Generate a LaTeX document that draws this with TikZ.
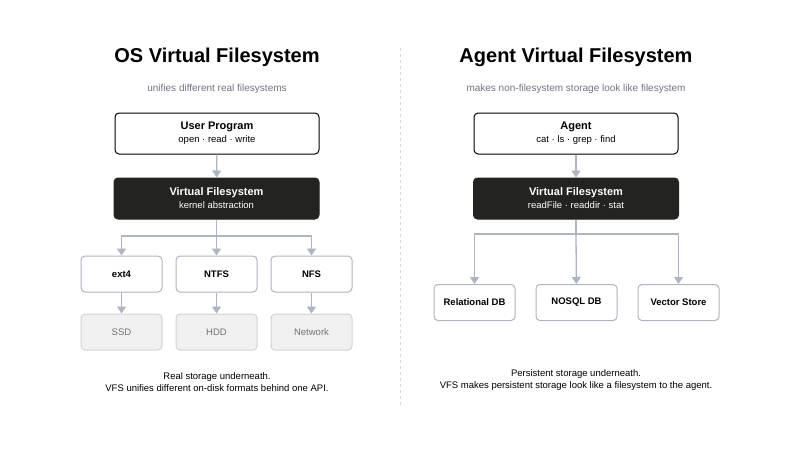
\documentclass[tikz,border=0pt]{standalone}
\usepackage{fontspec}
\setmainfont{Liberation Sans}
\usetikzlibrary{arrows.meta}
\definecolor{ln}{HTML}{AEB4C0}
\definecolor{dk}{HTML}{232321}
\definecolor{gr}{HTML}{707680}
\begin{document}
\begin{tikzpicture}[x=1pt,y=-1pt,
 box/.style={draw=#1,rounded corners=4pt,line width=1pt,inner sep=0pt,align=center},
 big/.style={box=black,minimum width=204pt,minimum height=41pt,fill=white},
 dark/.style={box=dk,fill=dk,text=white,minimum width=205pt,minimum height=41pt},
 mid/.style={box=ln,fill=white,minimum width=81pt,minimum height=36pt,font=\fontsize{9.5}{11}\selectfont\bfseries},
 low/.style={box=ln!60,fill=gray!12,minimum width=81pt,minimum height=36pt,font=\fontsize{9.5}{11}\selectfont,text=gray!90!black},
 arr/.style={draw=ln,line width=1.3pt,-{Triangle[length=7pt,width=9pt]}},
 lin/.style={draw=ln,line width=1.3pt},
 ttl/.style={font=\fontsize{20}{24}\selectfont\bfseries},
 sub/.style={font=\fontsize{10}{12}\selectfont,text=gr},
 capt/.style={font=\fontsize{9.5}{12}\selectfont,align=center}]
\useasboundingbox (0,0) rectangle (800,450);
\fill[white] (0,0) rectangle (800,450);
\draw[gray!30,dashed,line width=0.8pt] (400,48) -- (400,405);
% left
\node[ttl] (t1) at (217,57) {OS Virtual Filesystem};
\node[sub] (s1) at (217,89) {unifies different real filesystems};
\node[big] (up) at (217,133.5) {{\fontsize{11}{13}\selectfont\bfseries User Program}\\[1pt]{\fontsize{9.5}{11}\selectfont open · read · write}};
\node[dark] (v1) at (216.5,198.5) {{\fontsize{11}{13}\selectfont\bfseries Virtual Filesystem}\\[1pt]{\fontsize{9.5}{11}\selectfont kernel abstraction}};
\node[mid] (e4) at (121.5,274) {ext4};
\node[mid] (nt) at (216.5,274) {NTFS};
\node[mid] (nf) at (311.5,274) {NFS};
\node[low] (ssd) at (121.5,332) {SSD};
\node[low] (hdd) at (216.5,332) {HDD};
\node[low] (net) at (311.5,332) {Network};
\coordinate (b1) at (216.5,236);
\draw[arr] (up) -- (v1);
\draw[lin] (v1) -- (b1);
\draw[arr] (b1) -| (e4);
\draw[arr] (b1) -| (nf);
\draw[arr] (b1) -- (nt);
\draw[arr] (e4) -- (ssd);
\draw[arr] (nt) -- (hdd);
\draw[arr] (nf) -- (net);
\node[capt] (c1) at (217,382) {Real storage underneath.\\VFS unifies different on-disk formats behind one API.};
% right
\node[ttl] (t2) at (576,57) {Agent Virtual Filesystem};
\node[sub] (s2) at (576,89) {makes non-filesystem storage look like filesystem};
\node[big] (ag) at (576,133.5) {{\fontsize{11}{13}\selectfont\bfseries Agent}\\[1pt]{\fontsize{9.5}{11}\selectfont cat · ls · grep · find}};
\node[dark] (v2) at (576,198.5) {{\fontsize{11}{13}\selectfont\bfseries Virtual Filesystem}\\[1pt]{\fontsize{9.5}{11}\selectfont readFile · readdir · stat}};
\node[mid] (rd) at (474.5,302.5) {Relational DB};
\node[mid] (ns) at (576.5,302.5) {NOSQL DB};
\node[mid] (vs) at (678.5,302.5) {Vector Store};
\coordinate (b2) at (576,234);
\draw[arr] (ag) -- (v2);
\draw[lin] (v2) -- (b2);
\draw[arr] (b2) -| (rd);
\draw[arr] (b2) -| (vs);
\draw[arr] (b2) -- (ns);
\node[capt] (c2) at (576,380) {Persistent storage underneath.\\VFS makes persistent storage look like a filesystem to the agent.};
\end{tikzpicture}
\end{document}
